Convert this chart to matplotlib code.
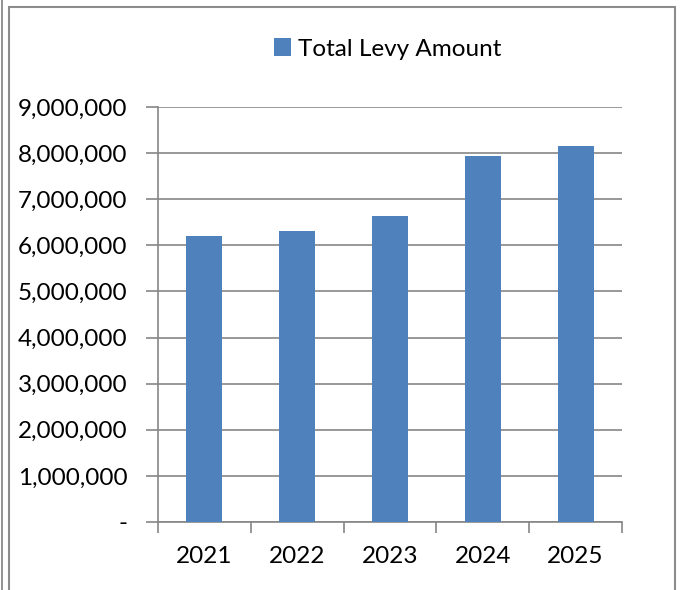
import numpy as np
import matplotlib.pyplot as plt
from matplotlib.ticker import FuncFormatter
from matplotlib.patches import Rectangle
from matplotlib.lines import Line2D

# dados
anos = ['2021', '2022', '2023', '2024', '2025']
valores = [6200000, 6320000, 6640000, 7930000, 8160000]
serie = 'Total Levy Amount'
yticks = np.arange(0, 9000001, 1000000)

plt.rcParams['font.family'] = ['Lato', 'DejaVu Sans']

fig = plt.figure(figsize=(6.81, 5.90), dpi=100)
W, H = 681, 590

# bordas da moldura
fig.add_artist(Line2D([2/W, 2/W], [0, 1], color='#808080', lw=1.2))
fig.add_artist(Rectangle((9/W, -0.05), (675-9)/W, 1.05 - 6.5/H, fill=False,
                         edgecolor='#8c8c8c', lw=1.5, transform=fig.transFigure))

ax = fig.add_axes([158/W, 1-522/H, (622-158)/W, (522-107)/H])
x = np.arange(len(anos))
ax.bar(x, valores, width=0.39, color='#4F81BD', label=serie, zorder=3)

ax.set_xlim(-0.5, len(anos)-0.5)
ax.set_ylim(0, 9000000)
ax.set_yticks(yticks)
ax.yaxis.set_major_formatter(FuncFormatter(lambda v, p: '-' if v == 0 else f'{v:,.0f}'))
ax.set_xticks(x)
ax.set_xticklabels(anos)
# ticks entre as categorias
ax.set_xticks(np.arange(-0.5, len(anos)), minor=True)
ax.tick_params(axis='x', which='major', length=0, pad=17, labelsize=17.5)
ax.tick_params(axis='x', which='minor', length=8, color='#868686', width=1.2)
ax.tick_params(axis='y', length=9, color='#868686', width=1.2, labelsize=17.5, pad=13)

ax.grid(True, axis='y', color='#868686', lw=1.2, zorder=0)
ax.spines['top'].set_visible(False)
ax.spines['right'].set_visible(False)
ax.spines['left'].set_color('#868686')
ax.spines['bottom'].set_color('#868686')
ax.spines['left'].set_linewidth(1.2)
ax.spines['bottom'].set_linewidth(1.2)

ax.legend(loc='center', bbox_to_anchor=(388/W, 1-49/H), bbox_transform=fig.transFigure,
          frameon=False, fontsize=17.5, handlelength=0.7, handleheight=0.7, handletextpad=0.3)

plt.savefig('out.png', dpi=100)
